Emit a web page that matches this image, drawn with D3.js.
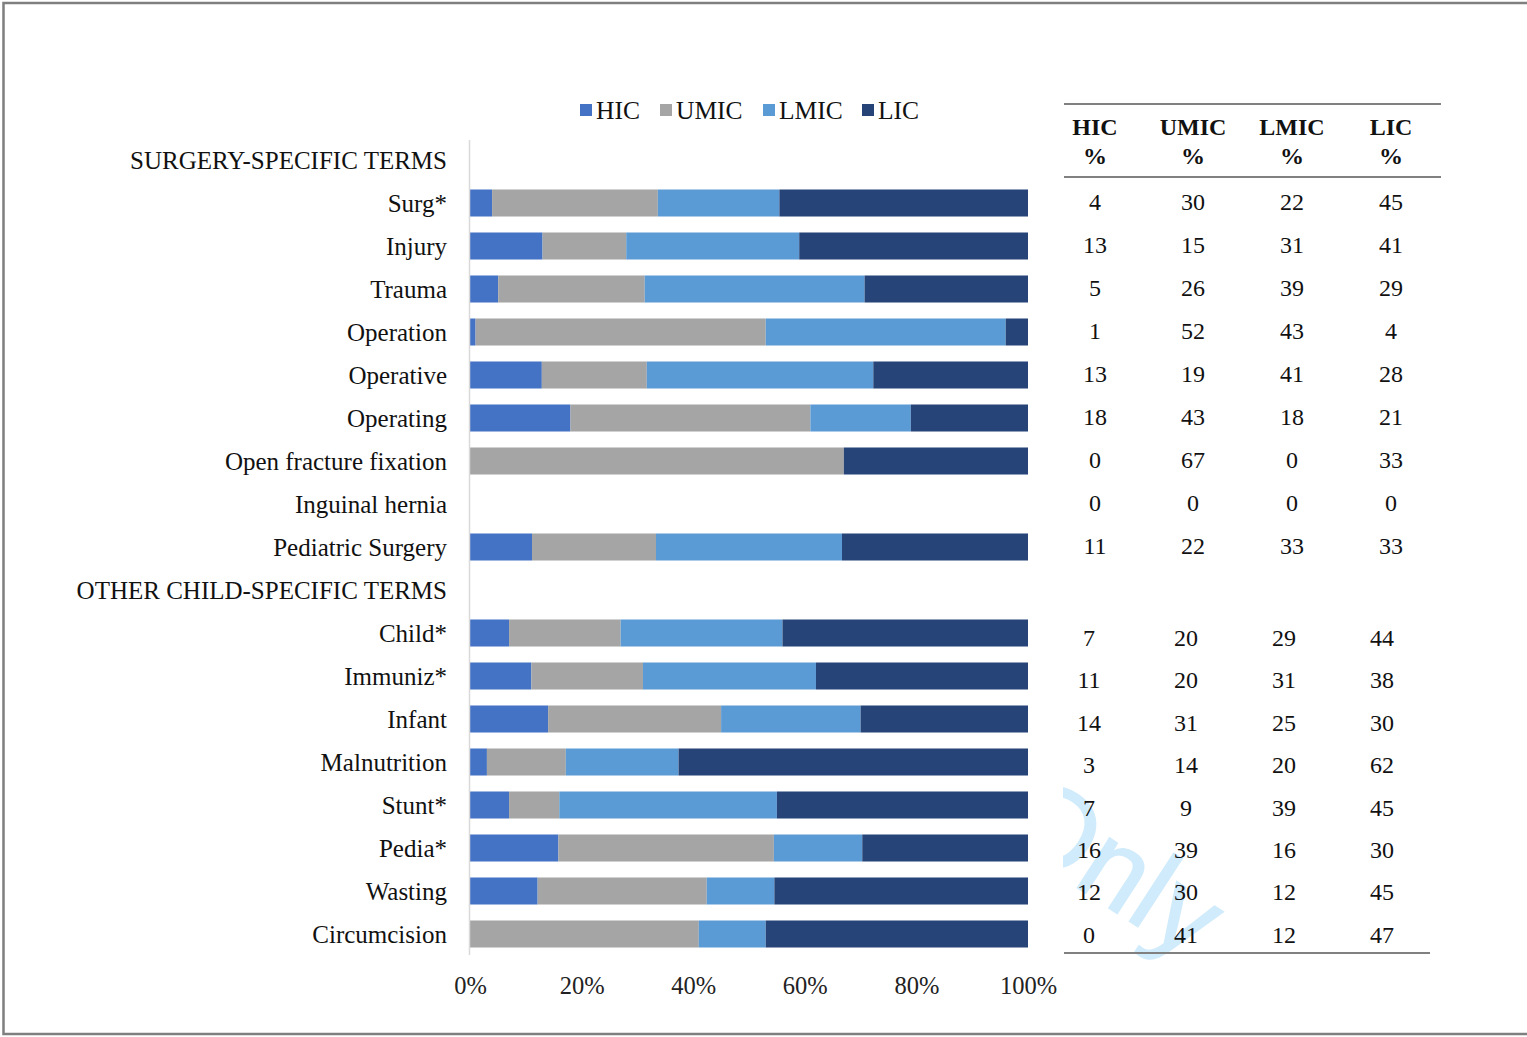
<!DOCTYPE html>
<html>
<head>
<meta charset="utf-8">
<script src="https://cdn.jsdelivr.net/npm/d3@7"></script>
<style>
  html, body { margin: 0; padding: 0; background: #fff; }
  svg { display: block; }
</style>
</head>
<body>
<svg id="chart" width="1527" height="1037"></svg>
<script>
// ---- data ----
const categories = ["SURGERY-SPECIFIC TERMS","Surg*","Injury","Trauma","Operation","Operative","Operating","Open fracture fixation","Inguinal hernia","Pediatric Surgery","OTHER CHILD-SPECIFIC TERMS","Child*","Immuniz*","Infant","Malnutrition","Stunt*","Pedia*","Wasting","Circumcision"];
const sectionRows = ["SURGERY-SPECIFIC TERMS","OTHER CHILD-SPECIFIC TERMS"];
const seriesNames = ["HIC","UMIC","LMIC","LIC"];
const hic  = [null,4,13,5,1,13,18,0,0,11,null,7,11,14,3,7,16,12,0];
const umic = [null,30,15,26,52,19,43,67,0,22,null,20,20,31,14,9,39,30,41];
const lmic = [null,22,31,39,43,41,18,0,0,33,null,29,31,25,20,39,16,12,12];
const lic  = [null,45,41,29,4,28,21,33,0,33,null,44,38,30,62,45,30,45,47];
const xTicks = [0, 0.2, 0.4, 0.6, 0.8, 1];
const tableHeaders = ["HIC","UMIC","LMIC","LIC"];
const colors = ["#4472C4","#A5A5A5","#5B9BD5","#264478"];

const rows = categories.map((c, i) => ({cat: c, HIC: hic[i], UMIC: umic[i], LMIC: lmic[i], LIC: lic[i], idx: i}));

const svg = d3.select("#chart");
const serif = "'Liberation Serif', 'Times New Roman', serif";

// frame
svg.append("rect").attr("x", 3.5).attr("y", 3).attr("width", 1530).attr("height", 1031)
  .attr("fill", "none").attr("stroke", "#7f7f7f").attr("stroke-width", 2.5);

// scales
const x = d3.scaleLinear().domain([0, 1]).range([470, 1028]);
const y = d3.scaleBand().domain(categories).range([138.5, 955.5]).paddingInner(0.372).paddingOuter(0.186);
// table rows in the second block sit on a slightly tighter grid
const yTable2 = d3.scaleLinear().domain([11, 18]).range([637.5, 934.5]);

const stack = d3.stack().keys(seriesNames).value((d, k) => d[k] == null ? 0 : d[k]).offset(d3.stackOffsetExpand);
const stacked = stack(rows);

// watermark (clipped to table area)
svg.append("clipPath").attr("id", "wmclip").append("rect")
  .attr("x", 1063).attr("y", 180).attr("width", 460).attr("height", 820);
svg.append("g").attr("clip-path", "url(#wmclip)")
  .append("text")
  .attr("transform", "translate(998,836) rotate(33)")
  .attr("font-family", "'Liberation Sans', Arial, sans-serif").attr("font-size", 112)
  .attr("fill", "#d0ebfb").attr("stroke", "#d0ebfb").attr("stroke-width", 1.5)
  .text("Only");

// bars
svg.append("g").selectAll("g").data(stacked).join("g")
  .attr("fill", (d, i) => colors[i])
  .selectAll("rect").data(d => d.filter(s => s[1] - s[0] > 0)).join("rect")
  .attr("x", d => x(d[0]))
  .attr("width", d => x(d[1]) - x(d[0]))
  .attr("y", d => y(d.data.cat))
  .attr("height", y.bandwidth());

// vertical axis line
svg.append("line").attr("x1", 469.5).attr("x2", 469.5).attr("y1", 140).attr("y2", 955)
  .attr("stroke", "#d9d9d9").attr("stroke-width", 1.5);

// category labels
svg.append("g").selectAll("text").data(categories).join("text")
  .attr("x", 447).attr("y", d => y(d) + y.bandwidth() / 2)
  .attr("dy", "0.35em").attr("text-anchor", "end")
  .attr("font-family", serif).attr("font-size", 25).attr("fill", "#111")
  .text(d => d);

// x axis
const xAxis = d3.axisBottom(x).tickValues(xTicks).tickFormat(d3.format(".0%")).tickSize(0).tickPadding(0);
const gx = svg.append("g").attr("transform", "translate(0,977)").call(xAxis);
gx.select(".domain").remove();
gx.selectAll("text").attr("font-family", serif).attr("font-size", 24.5).attr("fill", "#222");

// legend
const legendX = [580, 660, 763, 862];
const lg = svg.append("g").selectAll("g").data(seriesNames).join("g")
  .attr("transform", (d, i) => `translate(${legendX[i]},110)`);
lg.append("rect").attr("x", 0).attr("y", -6).attr("width", 12).attr("height", 12).attr("fill", (d, i) => colors[i]);
lg.append("text").attr("x", 16).attr("y", 0).attr("dy", "0.35em")
  .attr("font-family", serif).attr("font-size", 25.5).attr("fill", "#111").text(d => d);

// table
const colX1 = [1095, 1193, 1292, 1391];
const colX2 = [1089, 1186, 1284, 1382];
const tlines = [[104, 1441], [177, 1441], [953, 1430]];
svg.append("g").selectAll("line").data(tlines).join("line")
  .attr("x1", 1064).attr("x2", d => d[1]).attr("y1", d => d[0]).attr("y2", d => d[0])
  .attr("stroke", "#808080").attr("stroke-width", 2);

const th = svg.append("g").selectAll("g").data(tableHeaders).join("g");
th.append("text").attr("x", (d, i) => colX1[i]).attr("y", 127).attr("dy", "0.35em")
  .attr("text-anchor", "middle").attr("font-family", serif).attr("font-weight", "bold")
  .attr("font-size", 24).attr("fill", "#111").text(d => d);
th.append("text").attr("x", (d, i) => colX1[i]).attr("y", 156).attr("dy", "0.35em")
  .attr("text-anchor", "middle").attr("font-family", serif).attr("font-weight", "bold")
  .attr("font-size", 24).attr("fill", "#111").text("%");

const cells = [];
rows.forEach(r => {
  if (sectionRows.includes(r.cat)) return;
  const second = r.idx > 10;
  seriesNames.forEach((k, j) => {
    cells.push({v: r[k], x: second ? colX2[j] : colX1[j],
      y: second ? yTable2(r.idx) : y(r.cat) + y.bandwidth() / 2 - 1.5});
  });
});
svg.append("g").selectAll("text").data(cells).join("text")
  .attr("x", d => d.x).attr("y", d => d.y)
  .attr("dy", "0.35em").attr("text-anchor", "middle")
  .attr("font-family", serif).attr("font-size", 24).attr("fill", "#111")
  .text(d => d.v);
</script>
</body>
</html>
